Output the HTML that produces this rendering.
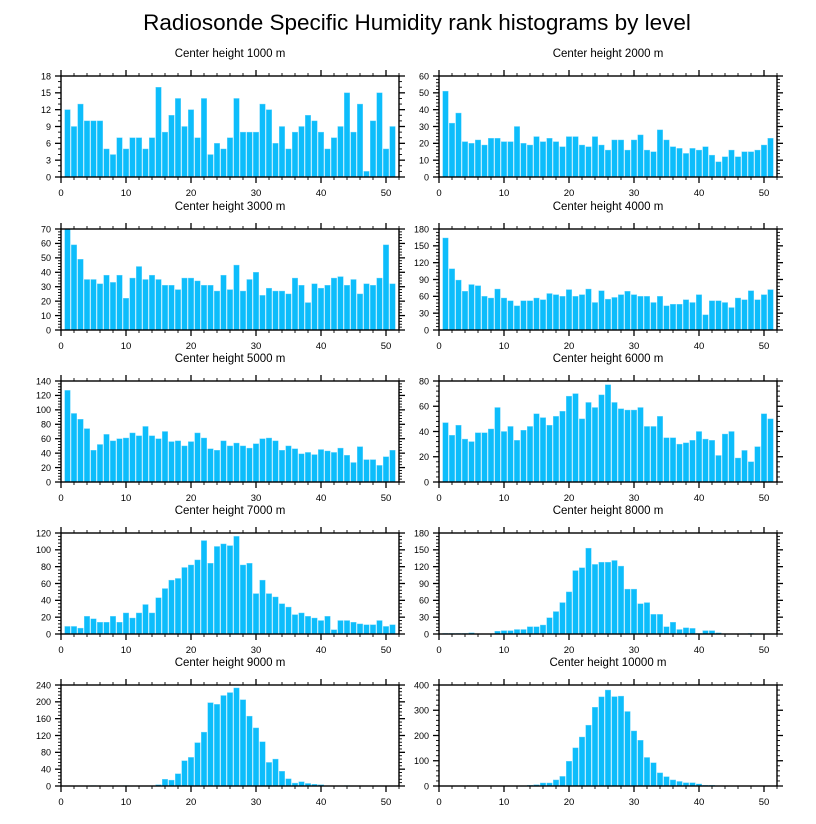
<!DOCTYPE html>
<html><head><meta charset="utf-8"><style>
html,body{margin:0;padding:0;background:#fff;}
svg{display:block;font-family:"Liberation Sans",sans-serif;}
</style></head><body>
<svg id="chart" width="816" height="824" viewBox="0 0 816 824" xmlns="http://www.w3.org/2000/svg">
<text x="417" y="30" text-anchor="middle" font-size="22.5">Radiosonde Specific Humidity rank histograms by level</text>
</svg>
<script>
const panelTitles = ["Center height 1000 m","Center height 2000 m","Center height 3000 m","Center height 4000 m","Center height 5000 m","Center height 6000 m","Center height 7000 m","Center height 8000 m","Center height 9000 m","Center height 10000 m"];
const yMax = [18,60,70,180,140,80,120,180,240,400];
const yStep = [3,10,10,30,20,20,20,30,40,100];
const xTicks = [0,10,20,30,40,50];
const h1000 = [12,9,13,10,10,10,5,4,7,5,7,7,5,7,16,8,11,14,9,12,7,14,4,6,5,7,14,8,8,8,13,12,6,9,5,8,9,11,10,8,5,7,9,15,8,13,1,10,15,5,9];
const h2000 = [51,32,38,21,20,22,19,23,23,21,21,30,20,19,24,21,23,21,18,24,24,19,18,24,19,16,22,22,16,22,25,16,15,28,22,18,17,14,17,16,18,13,9,12,16,12,15,15,16,19,23];
const h3000 = [70,59,49,35,35,32,38,33,38,22,36,44,35,38,35,31,31,28,36,36,34,31,31,27,38,28,45,27,35,40,24,29,27,27,25,36,31,19,32,29,31,36,37,31,35,25,32,31,36,59,32];
const h4000 = [164,109,89,69,81,79,60,57,73,57,52,43,52,52,57,54,65,63,60,72,60,63,73,49,70,55,58,63,69,63,60,60,49,60,43,46,46,54,49,63,27,52,52,49,40,57,54,70,54,63,72];
const h5000 = [127,95,87,74,44,52,66,57,60,61,68,64,77,64,60,70,56,57,50,56,68,61,46,44,57,50,54,50,47,53,60,61,57,44,50,46,39,41,38,45,43,41,47,37,27,49,31,31,23,35,44];
const h6000 = [47,37,45,34,32,39,39,42,59,40,44,33,41,44,54,51,45,52,56,68,70,50,63,59,69,77,63,58,57,57,59,44,44,52,35,35,30,31,33,40,34,33,21,38,40,19,25,16,28,54,50];
const h7000 = [9,9,7,21,18,14,14,21,14,25,19,25,35,25,43,54,64,66,79,82,88,111,84,104,107,105,116,82,84,48,64,48,44,36,32,23,25,21,19,16,21,5,16,16,14,12,11,11,16,9,11];
const h8000 = [1,1,1,1,2,0,0,0,5,6,6,8,8,13,13,16,29,40,56,75,113,118,153,124,128,128,131,121,80,80,54,56,35,35,13,21,8,11,10,1,6,6,2,0,0,0,0,1,0,0,0];
const h9000 = [0,0,0,0,1,0,0,0,0,1,0,0,0,0,3,16,14,29,60,68,103,128,198,194,215,222,233,205,166,138,105,56,64,35,17,7,10,6,4,3,0,0,0,1,0,0,0,0,0,0,0];
const h10000 = [0,0,0,0,0,0,0,0,0,0,0,0,0,3,5,12,12,24,38,98,151,194,241,312,353,380,354,356,295,218,181,113,92,52,37,24,18,13,13,8,3,3,0,0,0,0,0,0,0,0,0];
const series = [h1000,h2000,h3000,h4000,h5000,h6000,h7000,h8000,h9000,h10000];

const NS = "http://www.w3.org/2000/svg";
const svg = document.getElementById('chart');
const colX = [61, 439], plotW = 338;
const rowY = [76, 229, 381, 533, 685], plotH = 101;
const XMAX = 52;
function mk(tag, attrs, parent){ const e=document.createElementNS(NS,tag); for(const k in attrs) e.setAttribute(k,attrs[k]); (parent||svg).appendChild(e); return e; }

series.forEach((vals, p) => {
  const x0 = colX[p%2], y0 = rowY[Math.floor(p/2)];
  const g = mk('g', {});
  
  
  const sx = v => x0 + v/XMAX*plotW;
  const sy = v => y0 + plotH - v/yMax[p]*plotH;
  const t = mk('text', {x: x0+plotW/2, y: y0-19, 'text-anchor':'middle', 'font-size':'11.5'}, g);
  t.textContent = panelTitles[p];
  
  
  vals.forEach((v, i) => {
    if (v <= 0) return;
    const c = i + 1, bw = 0.86;
    const r = mk('rect', {x: sx(c-bw/2), y: sy(v), width: sx(c+bw/2)-sx(c-bw/2), height: sy(0)-sy(v), fill:'#0dbdfb', stroke:'#6fd6fd', 'stroke-width':'0.4'}, g);
    
    
  });
  const f = mk('rect', {x:x0, y:y0, width:plotW, height:plotH, fill:'none', stroke:'#000', 'stroke-width':'1.4'}, g);
  
  
  for (let v=0; v<=XMAX; v+=2){
    const major = v%10===0, L = major?6:3, X = sx(v);
    mk('line',{x1:X,y1:y0,x2:X,y2:y0-L,stroke:'#000','stroke-width':major?1.3:0.9},g);
    mk('line',{x1:X,y1:y0+plotH,x2:X,y2:y0+plotH+L,stroke:'#000','stroke-width':major?1.3:0.9},g);
  }
  xTicks.forEach(v => {
    const l = mk('text',{x:sx(v), y:y0+plotH+19, 'text-anchor':'middle','font-size':'9.5'},g);
    l.textContent = v;
    
    
  });
  const sub = yStep[p]===3 ? 3 : 5;
  const ms = yStep[p]/sub;
  for (let k=0; k*ms<=yMax[p]+1e-9; k++){
    const v = k*ms, major = k%sub===0, L = major?6:3, Y = sy(v);
    mk('line',{x1:x0,y1:Y,x2:x0-L,y2:Y,stroke:'#000','stroke-width':major?1.3:0.9},g);
    mk('line',{x1:x0+plotW,y1:Y,x2:x0+plotW+L,y2:Y,stroke:'#000','stroke-width':major?1.3:0.9},g);
  }
  for (let v=0; v<=yMax[p]; v+=yStep[p]){
    const l = mk('text',{x:x0-10, y:sy(v)+3.3, 'text-anchor':'end','font-size':'9'},g);
    l.textContent = v;
    
    
  }
});
</script>
</body></html>
